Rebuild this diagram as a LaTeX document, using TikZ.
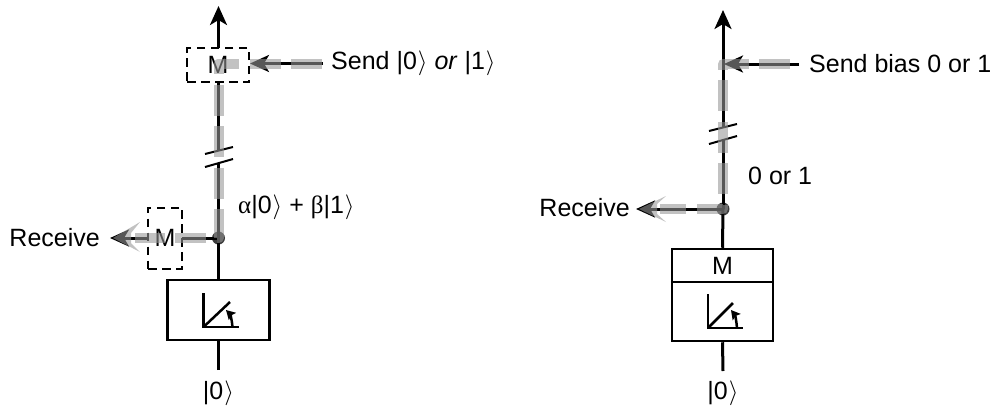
\documentclass[tikz,border=0pt]{standalone}
\usepackage{fontspec}
\setmainfont{Liberation Sans}
\newfontfamily\serifgr{Liberation Serif}
\usetikzlibrary{arrows.meta}
\newcommand{\ketz}[1]{|#1\kern1pt$\rangle$}
\tikzset{
  x=1pt,y=-1pt,
  lbl/.style={inner sep=0pt,font=\fontsize{25}{29}\selectfont},
  wire/.style={line width=3pt,black},
  blk/.style={-{Stealth[length=19pt,width=17pt,inset=5pt]}},
  over/.style={line width=10pt,color={rgb,255:red,150;green,150;blue,150},opacity=.58,dash pattern=on 31pt off 10.5pt,line join=round},
  gtip/.style={fill={rgb,255:red,150;green,150;blue,150},opacity=.58,draw=none},
  dbox/.style={draw,line width=2pt,dash pattern=on 8.5pt off 5.5pt,minimum width=0pt,inner sep=0pt},
  qbox/.style={draw,line width=2.5pt,inner sep=0pt},
  met/.style={line width=2.5pt},
  dot/.style={circle,fill={rgb,255:red,60;green,60;blue,60},minimum size=13pt,inner sep=0pt},
  slash/.style={line width=2pt}
}
\begin{document}
\begin{tikzpicture}
\useasboundingbox (0,0) rectangle (994,408);
% ---------- left ----------
\node[qbox,minimum width=102pt,minimum height=60pt] (Lb) at (218.5,310) {};
\node[dot] (Lj) at (218.5,238) {};
\node[lbl] (Lk) at (218.5,393) {\ketz{0}};
\coordinate (Ls) at (218.5,370);
\coordinate (Lt) at (218.5,6);
\coordinate (Lc) at (218.5,63.5);
\coordinate (Lsu) at (218.5,150.5);
\coordinate (Lsd) at (218.5,163);
\coordinate (Lf) at (323,63.5);
\coordinate (Lar) at (250,63.5);
\coordinate (Lrt) at (110,238);
\node[lbl,anchor=west] (Lsend) at (331,63.5) {Send \ketz{0} \textit{or} \ketz{1}};
\node[lbl,anchor=west] (Lamp) at (238,207) {{\serifgr α}\ketz{0} + {\serifgr β}\ketz{1}};
\node[lbl,anchor=east] (Lrec) at (100,238) {Receive};
\draw[wire] (Ls) -- (Lb.south);
\draw[wire] (Lb.north) -- (Lj.center);
\draw[wire] (Lj.center) -- (Lsd);
\draw[wire] (Lsu) -- (Lc);
\draw[wire,blk] (Lc) -- (Lt);
\draw[wire,blk] (Lj.center) -- (Lrt);
\node[dbox,fill=white,minimum width=62pt,minimum height=34pt] (Lm1) at (218,65) {};
\draw[wire,blk] (Lf) -- (Lar);
\node[dbox,fill=white,minimum width=34pt,minimum height=61pt] (Lm2) at (165,238) {};
\node[lbl] (Lm1t) at (218,65) {M};
\node[lbl] (Lm2t) at (165,238) {M};
\draw[slash] (205,154) -- (233,147);
\draw[slash] (205,167) -- (233,159);
\draw[met] (203.5,293) -- (203.5,327) -- (239,327);
\draw[met] (203.5,327) -- (230,302);
\draw[met,-{Stealth[length=9pt,width=10pt,inset=1.5pt]}] (232.5,327) .. controls (232,320) and (230,314) .. (226,310);
\draw[over] (322,63.5) -- (218.5,63.5) -- (218.5,238) -- (135,238);
\fill[gtip] (113,238) -- (140,222) -- (131,233) -- (131,243) -- (140,252) -- cycle;
% ---------- right ----------
\node[qbox,minimum width=101pt,minimum height=92pt] (Rb) at (722.5,295) {};
\draw[line width=2.5pt] (Rb.west |- 0,282) -- (Rb.east |- 0,282);
\node[lbl] (Rm) at (722.5,266) {M};
\node[dot] (Rj) at (723,209) {};
\node[lbl] (Rk) at (723,393) {\ketz{0}};
\coordinate (Rs) at (723,371);
\coordinate (Rt) at (723,10);
\coordinate (Rc) at (723,64);
\coordinate (Rsu) at (723,128);
\coordinate (Rsd) at (723,140);
\coordinate (Rf) at (799,64);
\coordinate (Rar) at (724,64);
\coordinate (Rrt) at (636,209);
\node[lbl,anchor=west] (Rsend) at (809,64) {Send bias 0 or 1};
\node[lbl,anchor=west] (R01) at (748,176) {0 or 1};
\node[lbl,anchor=east] (Rrec) at (630,208) {Receive};
\draw[wire] (Rs) -- (Rb.south);
\draw[wire] (Rb.north) -- (Rj.center);
\draw[wire] (Rj.center) -- (Rsd);
\draw[wire,blk] (Rsu) -- (Rt);
\draw[wire,blk] (Rf) -- (Rar);
\draw[wire,blk] (Rj.center) -- (Rrt);
\draw[slash] (709,131) -- (737,124);
\draw[slash] (709,144) -- (737,136);
\draw[met] (708,294) -- (708,328) -- (743,328);
\draw[met] (708,328) -- (733,303);
\draw[met,-{Stealth[length=9pt,width=10pt,inset=1.5pt]}] (737,328) .. controls (736.5,321) and (735,315) .. (731,310);
\draw[over] (790,64) -- (723,64) -- (723,209) -- (660,209);
\fill[gtip] (639,209) -- (666,196) -- (657,204) -- (657,214) -- (666,222) -- cycle;
\end{tikzpicture}
\end{document}
